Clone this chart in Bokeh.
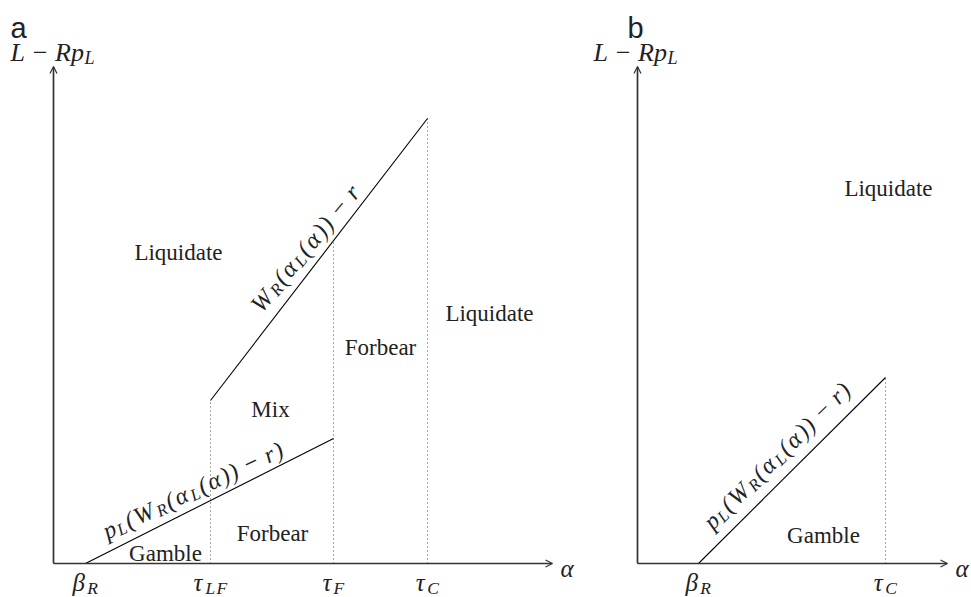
import math
import numpy as np
from bokeh.plotting import figure
from bokeh.models import Label, Arrow, OpenHead, Range1d
from bokeh.layouts import row
from bokeh.embed import file_html
from bokeh.resources import INLINE

# ---------------- data (panel a) ----------------
a_tick_names = ["β", "τ", "τ", "τ"]
a_tick_subs = ["R", "LF", "F", "C"]
a_tick_x = [0.8, 3.925, 7.0, 9.35]
a_lower_x = [0.8, 7.0]          # p_L(W_R(α_L(α)) - r)
a_lower_y = [0.0, 3.125]
a_upper_x = [3.925, 9.35]       # W_R(α_L(α)) - r
a_upper_y = [4.075, 11.125]
a_axis_x_end = 12.475
a_axis_y_end = 12.425
a_regions = ["Liquidate", "Liquidate", "Forbear", "Mix", "Forbear", "Gamble"]
a_region_x = [3.125, 10.9, 8.175, 5.425, 5.475, 2.8]
a_region_y = [7.775, 6.25, 5.4, 3.85, 0.75, 0.25]

# ---------------- data (panel b) ----------------
b_tick_names = ["β", "τ"]
b_tick_subs = ["R", "C"]
b_tick_x = [1.525, 6.2]
b_line_x = [1.525, 6.2]          # p_L(W_R(α_L(α)) - r)
b_line_y = [0.0, 4.65]
b_axis_x_end = 7.75
b_axis_y_end = 12.425
b_regions = ["Liquidate", "Gamble"]
b_region_x = [6.275, 4.65]
b_region_y = [9.375, 0.7]

PX = 40.0  # pixels per data unit (both axes)
SERIF = "Liberation Serif"
TXT = "#222222"
AXC = "#333333"

# Times-like advances (used for whole-string pieces)
CW = {'W': .833, 'R': .611, 'L': .556, 'F': .611, 'C': .667, 'p': .5, 'r': .389,
      'α': .53, 'β': .5, 'τ': .44, '(': .333, ')': .333, '−': .675, ' ': .25}
# Computer-Modern-like advances (used for per-glyph placement)
CM = {'W': .944, 'R': .759, 'L': .681, 'F': .643, 'C': .715, 'p': .503, 'r': .451,
      'α': .64, 'β': .566, 'τ': .437, '(': .389, ')': .389, '−': .778, ' ': .222}


def text_width(s, size, table):
    return sum(table.get(ch, 0.5) for ch in s) * size


def _label(p, x, y, xo, yo, t, angle, fs):
    p.add_layout(Label(x=x, y=y, x_offset=xo, y_offset=yo, text=t, angle=angle,
                       text_font=SERIF, text_font_style="italic",
                       text_font_size=f"{fs:.1f}px", text_color=TXT,
                       text_align="left", text_baseline="alphabetic"))


def math_text(p, x, y, pieces, size, angle=0.0, align="left", per_glyph=False, bx=0.0, by=0.0):
    sub_scale = 0.7
    table = CM if per_glyph else CW
    widths = [text_width(t, size * (sub_scale if sub else 1.0), table) for t, sub in pieces]
    total = sum(widths)
    d = {"left": 0.0, "center": -total / 2.0, "right": -total}[align]
    c, s = math.cos(angle), math.sin(angle)
    for (t, sub), w in zip(pieces, widths):
        fs = size * (sub_scale if sub else 1.0)
        q = -0.2 * size if sub else 0.0
        if per_glyph:
            for ch in t:
                adv = table.get(ch, 0.5) * fs
                if ch != " ":
                    pad = max(0.0, adv - CW.get(ch, 0.5) * fs) / 2.0
                    dd = d + pad
                    _label(p, x, y, bx + dd * c - q * s, by + dd * s + q * c, ch, angle, fs)
                d += adv
        else:
            _label(p, x, y, bx + d * c - q * s, by + d * s + q * c, t, angle, fs)
            d += w


def line_label(p, lx, ly, t, pieces, size, perp, dangle=0.0):
    x = lx[0] + t * (lx[1] - lx[0])
    y = ly[0] + t * (ly[1] - ly[0])
    phi = math.atan2((ly[1] - ly[0]) * PX, (lx[1] - lx[0]) * PX)
    bx, by = -perp * math.sin(phi), perp * math.cos(phi)
    math_text(p, x, y, pieces, size, angle=phi + math.radians(dangle), align="center",
              per_glyph=True, bx=bx, by=by)


def make_fig(width, x0, x1):
    p = figure(width=width, height=597, x_range=Range1d(x0, x1), y_range=Range1d(-0.85, 14.075),
               x_axis_type=None, y_axis_type=None, output_backend="svg",
               toolbar_location=None, min_border=0, outline_line_color=None,
               background_fill_color="white", border_fill_color="white")
    p.grid.visible = False
    return p


def axes(p, xend, yend):
    for xe, ye in [(xend, 0.0), (0.0, yend)]:
        p.add_layout(Arrow(end=OpenHead(size=7, line_color=AXC, line_width=1.2),
                           x_start=0.0, y_start=0.0, x_end=xe, y_end=ye,
                           line_color=AXC, line_width=1.7))


def dotted(p, x, ytop):
    p.line([x, x], [0.0, ytop], line_color="#555555", line_width=1.1, line_dash="1 3")


def region_texts(p, names, xs, ys):
    for n, x, y in zip(names, xs, ys):
        p.add_layout(Label(x=x, y=y, text=n, text_font=SERIF, text_font_size="23px",
                           text_color=TXT, text_align="center", text_baseline="middle"))


def ticks(p, names, subs, xs):
    for n, s, x in zip(names, subs, xs):
        math_text(p, x, -0.475, [(n, False), (s, True)], 25, align="center", per_glyph=True)


BIG = [("p", False), ("L", True), ("(W", False), ("R", True), ("(α", False), ("L", True),
       ("(α)) − r)", False)]
UP = [("W", False), ("R", True), ("(α", False), ("L", True), ("(α)) − r", False)]

# ---------------- panel a ----------------
pa = make_fig(585, -1.325, 13.3)
axes(pa, a_axis_x_end, a_axis_y_end)
up_at = lambda x: float(np.interp(x, a_upper_x, a_upper_y))
dotted(pa, a_tick_x[1], up_at(a_tick_x[1]))
dotted(pa, a_tick_x[2], up_at(a_tick_x[2]))
dotted(pa, a_tick_x[3], up_at(a_tick_x[3]))
pa.line(a_lower_x, a_lower_y, line_color="black", line_width=1.1)
pa.line(a_upper_x, a_upper_y, line_color="black", line_width=1.1)
region_texts(pa, a_regions, a_region_x, a_region_y)
ticks(pa, a_tick_names, a_tick_subs, a_tick_x)
line_label(pa, a_lower_x, a_lower_y, 0.465, BIG, 24, 17, dangle=-1.5)
line_label(pa, a_upper_x, a_upper_y, 0.50, UP, 24.5, 18, dangle=-2.0)
pa.add_layout(Label(x=12.675, y=-0.125, text="α", text_font=SERIF, text_font_style="italic",
                    text_font_size="25px", text_color=TXT, text_align="left",
                    text_baseline="alphabetic"))
math_text(pa, -1.075, 12.775, [("L − Rp", False), ("L", True)], 26)
pa.add_layout(Label(x=-1.075, y=13.4, text="a", text_font="Liberation Sans",
                    text_font_size="29px", text_color="#222222", text_align="left",
                    text_baseline="alphabetic"))

# ---------------- panel b ----------------
pb = make_fig(386, -1.3, 8.35)
axes(pb, b_axis_x_end, b_axis_y_end)
dotted(pb, b_tick_x[1], b_line_y[1])
pb.line(b_line_x, b_line_y, line_color="black", line_width=1.1)
region_texts(pb, b_regions, b_region_x, b_region_y)
ticks(pb, b_tick_names, b_tick_subs, b_tick_x)
line_label(pb, b_line_x, b_line_y, 0.50, BIG, 24, 21)
pb.add_layout(Label(x=7.95, y=-0.125, text="α", text_font=SERIF, text_font_style="italic",
                    text_font_size="25px", text_color=TXT, text_align="left",
                    text_baseline="alphabetic"))
math_text(pb, -1.1, 12.775, [("L − Rp", False), ("L", True)], 26)
pb.add_layout(Label(x=-0.25, y=13.4, text="b", text_font="Liberation Sans",
                    text_font_size="29px", text_color="#222222", text_align="left",
                    text_baseline="alphabetic"))

layout = row(pa, pb)
open("out.html", "w").write(file_html(layout, INLINE))
